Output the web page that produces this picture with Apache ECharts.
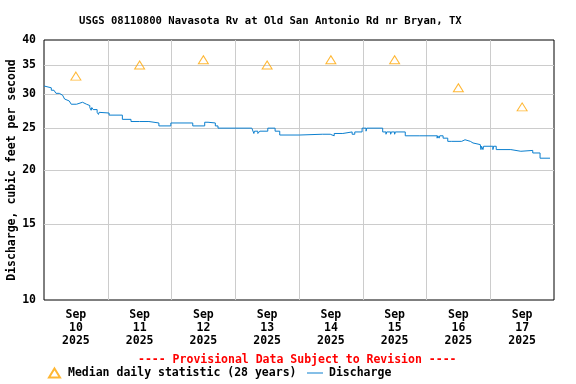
<!DOCTYPE html>
<html><head><meta charset="utf-8">
<script src="https://cdn.jsdelivr.net/npm/echarts@6/dist/echarts.min.js"></script>
<style>html,body{margin:0;padding:0;background:#fff}#c{width:576px;height:384px}</style>
</head><body><div id="c"></div>
<script>
const titleText = 'USGS 08110800 Navasota Rv at Old San Antonio Rd nr Bryan, TX';
const footerText = '---- Provisional Data Subject to Revision ----';
const yAxisName = 'Discharge, cubic feet per second';
const dayLabels = ['Sep\n10\n2025','Sep\n11\n2025','Sep\n12\n2025','Sep\n13\n2025','Sep\n14\n2025','Sep\n15\n2025','Sep\n16\n2025','Sep\n17\n2025'];
const medianName = 'Median daily statistic (28 years)';
const medianCfs = [33, 35, 36, 35, 36, 36, 31, 28];
const dischargeName = 'Discharge';
const yTickLabels = [10, 15, 20, 25, 30, 35, 40];
const yGridValues = [15, 20, 25, 30, 35];
const xGridHours = [24, 48, 72, 96, 120, 144, 168];
// hours since Sep 10 00:00, value holds until next entry
const dischargeHours = [0, 0.75, 2.75, 3.75, 4.5, 5.75, 7, 7.75, 8.5, 9.5, 10.25, 10.5, 11, 12.25, 14.5, 16, 17.25, 17.75, 18, 18.5, 20, 20.5, 20.75, 21.5, 24.5, 29.5, 32.75, 33.25, 33.5, 36, 36.25, 39.5, 43.25, 47.75, 56, 60.5, 61.75, 64.5, 65.5, 78.25, 79, 79.25, 80.5, 81.25, 84.25, 87, 88.75, 96.25, 96.5, 97, 104.75, 105, 107.75, 109.25, 112.5, 116, 117, 119.75, 121.25, 121.5, 127.5, 128.75, 129, 130.5, 130.75, 132, 132.25, 136, 141.25, 141.5, 148, 148.25, 148.75, 149, 150.25, 152, 153.5, 153.75, 157.25, 158.5, 160.5, 161.5, 164.25, 164.5, 164.75, 165.25, 165.5, 169, 169.25, 170.25, 175.75, 179.5, 184, 186.75, 190.5];
const dischargeCfs = [31.3, 31.0, 30.6, 30.5, 30.1, 29.8, 29.6, 29.2, 28.9, 28.6, 28.4, 28.6, 28.4, 28.7, 28.4, 28.2, 27.9, 27.5, 27.9, 27.6, 27.2, 26.9, 27.2, 27.1, 26.8, 26.2, 25.9, 25.7, 25.9, 25.7, 25.9, 25.7, 25.3, 25.7, 25.3, 25.8, 25.7, 25.3, 25.0, 24.8, 24.3, 24.6, 24.3, 24.6, 25.0, 24.6, 24.1, 24.0, 24.1, 24.2, 24.0, 24.2, 24.0, 24.3, 24.5, 24.2, 24.5, 25.0, 24.6, 25.0, 24.5, 24.2, 24.5, 24.2, 24.5, 24.2, 24.5, 24.0, 24.2, 24.0, 23.7, 24.0, 23.7, 24.0, 23.7, 23.3, 23.1, 23.3, 23.5, 23.3, 23.1, 22.9, 22.7, 22.3, 22.7, 22.3, 22.7, 22.3, 22.7, 22.3, 22.1, 22.2, 21.9, 21.3, 21.3];

const FONT = "'DejaVu Sans Mono', monospace";
const chart = echarts.init(document.getElementById('c'), null, {renderer: 'canvas'});
const txt = (size, color) => ({fontFamily: FONT, fontWeight: 'bold', fontSize: size, color: color || '#000'});

chart.setOption({
  animation: false,
  backgroundColor: '#fff',
  title: [
    {text: titleText, left: 79, top: 15, padding: 0, textStyle: Object.assign(txt(10.6), {lineHeight: 12})},
    {text: footerText, left: 138, top: 353, padding: 0, textStyle: Object.assign(txt(11.5, '#ff0000'), {lineHeight: 14})}
  ],
  grid: {left: 44, right: 22, top: 40, bottom: 84, show: true, borderColor: '#000', borderWidth: 1,
         backgroundColor: 'transparent', containLabel: false, outerBoundsMode: 'none'},
  legend: [
    {data: [medianName], left: 48, top: 367, padding: 0, itemWidth: 11, itemHeight: 9, selectedMode: false,
     textStyle: Object.assign(txt(11.5), {padding: [0, 0, 0, 3]})},
    {data: [{name: dischargeName, icon: 'rect'}], left: 307, top: 367, padding: 0, itemWidth: 16, itemHeight: 1, selectedMode: false,
     textStyle: Object.assign(txt(11.5), {padding: [0, 0, 0, 1]})}
  ],
  xAxis: [
    {type: 'value', min: 0, max: 192, position: 'bottom',
     axisLine: {show: false}, axisTick: {show: false, customValues: xGridHours}, axisLabel: {show: false},
     splitLine: {show: true, lineStyle: {color: '#cccccc', width: 1}}},
    {type: 'category', data: dayLabels, boundaryGap: true, position: 'bottom',
     axisLine: {show: false}, axisTick: {show: false}, splitLine: {show: false},
     axisLabel: Object.assign(txt(11.5), {lineHeight: 13, margin: 9, interval: 0})}
  ],
  yAxis: {
    type: 'log', logBase: 10, min: 10, max: 40,
    axisLine: {show: false},
    axisTick: {show: false, customValues: yGridValues},
    axisLabel: Object.assign(txt(11.5), {customValues: yTickLabels, margin: 8}),
    splitLine: {show: true, lineStyle: {color: '#cccccc', width: 1}},
    name: yAxisName, nameLocation: 'middle', nameRotate: 90, nameGap: 26, nameMoveOverlap: false,
    nameTextStyle: txt(11.5)
  },
  series: [
    {type: 'scatter', name: medianName, xAxisIndex: 1, yAxisIndex: 0, symbol: 'triangle', symbolSize: [10, 8],
     data: medianCfs, itemStyle: {color: 'rgba(255,255,255,0)', borderColor: '#ffa500', borderWidth: 1}, z: 3},
    {type: 'line', name: dischargeName, xAxisIndex: 0, yAxisIndex: 0, step: 'end', symbol: 'none', showSymbol: false,
     data: dischargeHours.map((h, i) => [h, dischargeCfs[i]]),
     lineStyle: {color: '#0b7fcf', width: 1}, itemStyle: {color: '#0b7fcf'}, z: 2}
  ]
});
</script>
</body></html>
